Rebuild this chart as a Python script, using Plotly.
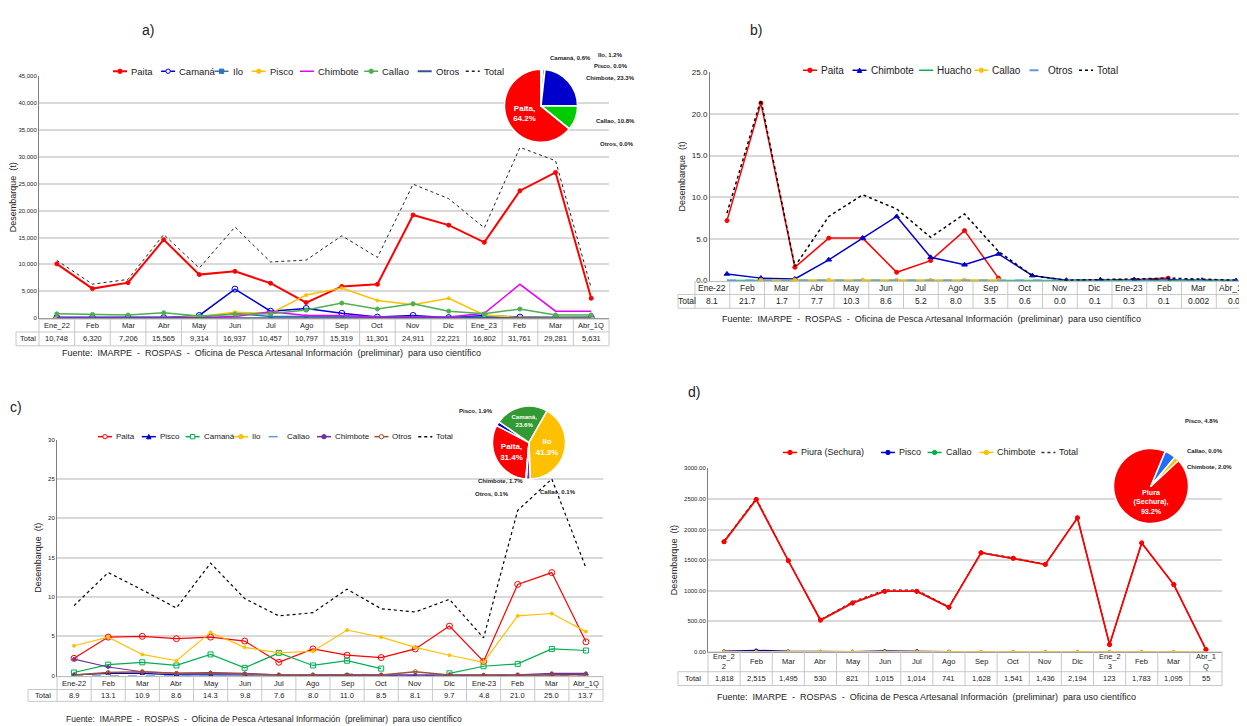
import plotly.graph_objects as go

W, H = 1247, 726
def X(p): return p / W
def Y(p): return 1 - p / H

# ---------------- data ----------------
months_a = ["Ene_22","Feb","Mar","Abr","May","Jun","Jul","Ago","Sep","Oct","Nov","Dic","Ene_23","Feb","Mar","Abr_1Q"]
months_b = ["Ene-22","Feb","Mar","Abr","May","Jun","Jul","Ago","Sep","Oct","Nov","Dic","Ene-23","Feb","Mar","Abr_1Q"]
months_d = ["Ene_2<br>2","Feb","Mar","Abr","May","Jun","Jul","Ago","Sep","Oct","Nov","Dic","Ene_2<br>3","Feb","Mar","Abr_1<br>Q"]

# a) Pota
a_paita    = [10100,5500,6600,14600,8100,8700,6500,2900,5900,6300,19200,17300,14100,23700,27100,3700]
a_camana   = [100,100,100,100,500,5400,1300,1800,900,200,500,100,500,200,100,100]
a_ilo      = [100,100,100,100,200,900,300,300,200,100,100,100,200,100,200,200]
a_pisco    = [0,0,0,0,300,1100,900,4300,5600,3300,2500,3700,600,100,100,100]
a_chimbote = [100,100,100,100,100,300,1200,500,500,200,200,200,900,6300,1300,1300]
a_callao   = [800,700,600,1000,400,700,800,1500,2800,1700,2700,1300,800,1700,600,600]
a_otros    = [0]*16
a_total    = [10748,6320,7206,15565,9314,16937,10457,10797,15319,11301,24911,22221,16802,31761,29281,5631]
a_total_lbl = ["10,748","6,320","7,206","15,565","9,314","16,937","10,457","10,797","15,319","11,301","24,911","22,221","16,802","31,761","29,281","5,631"]
a_pie_labels = ["Paita","Camaná","Ilo","Pisco","Chimbote","Callao","Otros"]
a_pie_values = [64.2,0.6,1.2,0.0,23.3,10.8,0.0]

# b) Calamar
b_paita    = [7.2,21.3,1.6,5.1,5.1,1.0,2.4,6.0,0.3,None,None,None,0.1,0.3,None,None]
b_chimbote = [0.8,0.3,0.2,2.5,5.1,7.7,2.8,1.9,3.2,0.6,0.05,0.1,0.1,0.1,0.05,0.0]
b_huacho   = [0]*16
b_callao   = [None,0.05,0.05,0.05,0.05,0.05,0.05,0.05,0.05,None,None,None,None,None,None,None]
b_otros    = [0]*16
b_total_lbl = ["8.1","21.7","1.7","7.7","10.3","8.6","5.2","8.0","3.5","0.6","0.0","0.1","0.3","0.1","0.002","0.0"]
b_total_line = [8.1,21.7,1.7,7.7,10.3,8.6,5.2,8.0,3.5,0.6,0.05,0.1,0.2,0.3,0.2,0.05]

# c) Pulpo
c_paita    = [2.2,4.9,5.0,4.7,4.9,4.4,1.7,3.4,2.6,2.3,3.4,6.3,1.8,11.6,13.1,4.3]
c_pisco    = [0.1,0.3,0.3,0.1,0.1,0.1,0.05,0,0,0,0,0,0,0,0.1,0.2]
c_camana   = [0.4,1.4,1.7,1.3,2.7,1.0,2.9,1.3,1.9,0.9,None,0.3,1.2,1.5,3.4,3.2]
c_ilo      = [3.8,4.9,2.7,1.9,5.5,3.6,2.9,3.1,5.8,4.9,3.6,2.6,1.7,7.6,7.9,5.6]
c_callao   = [0,0,0,0,0,0,0,0,0.2,0.1,0,0,0,0,0,0]
c_chimbote = [2.1,1.1,0.5,0.3,0.4,0.3,0.1,0.1,0.1,0.1,0.1,0.1,0.05,0.1,0.3,0.3]
c_otros    = [0.1,0.4,0.5,0.3,0.3,0.2,0.1,0.1,0.1,0.1,0.5,0.1,0.05,0.1,0.1,0.1]
c_total    = [8.9,13.1,10.9,8.6,14.3,9.8,7.6,8.0,11.0,8.5,8.1,9.7,4.8,21.0,25.0,13.7]
c_total_lbl = ["8.9","13.1","10.9","8.6","14.3","9.8","7.6","8.0","11.0","8.5","8.1","9.7","4.8","21.0","25.0","13.7"]
c_pie_labels = ["Paita","Pisco","Camaná","Ilo","Chimbote","Callao","Otros"]
c_pie_values = [31.4,1.9,23.6,41.3,1.7,0.1,0.1]

# d) Concha de abanico
d_piura    = [1800,2490,1490,520,800,990,990,730,1620,1530,1430,2190,120,1780,1100,40]
d_pisco    = [10,25,10,5,5,15,15,5,0,0,0,0,0,0,0,0]
d_callao   = [0]*16
d_chimbote = [2]*16
d_total    = [1818,2515,1495,530,821,1015,1014,741,1628,1541,1436,2194,123,1783,1095,55]
d_total_lbl = ["1,818","2,515","1,495","530","821","1,015","1,014","741","1,628","1,541","1,436","2,194","123","1,783","1,095","55"]
d_pie_labels = ["Piura (Sechura)","Pisco","Callao","Chimbote"]
d_pie_values = [93.2,4.8,0.0,2.0]

FONT = "Liberation Sans, Arial, sans-serif"
fig = go.Figure()
idx = list(range(16))
shapes, ann = [], []
legends = {"": [], "2": [], "3": [], "4": []}

def line(name, ys, color, axis, symbol="circle", dash="solid", width=1.5, msize=4, open_=False, mode="lines+markers", show=True):
    fig.add_trace(go.Scatter(
        x=idx, y=ys, name=name, mode=mode, xaxis="x"+axis, yaxis="y"+axis, showlegend=False,
        line=dict(color=color, width=width, dash=dash),
        marker=dict(symbol=symbol + ("-open" if open_ else ""), size=msize, color=color,
                    line=dict(color=color, width=1)),
        connectgaps=False))
    if show:
        legends[axis].append((name, color, dash, width, symbol if "markers" in mode else None, open_))

# ---- a
line("Paita", a_paita, "#ff0000", "", width=2)
line("Camaná", a_camana, "#0000dd", "", open_=True, msize=6)
line("Ilo", a_ilo, "#2e75b6", "", symbol="square", msize=3)
line("Pisco", a_pisco, "#ffc000", "", msize=3)
line("Chimbote", a_chimbote, "#e600ff", "", mode="lines")
line("Callao", a_callao, "#4caf50", "", msize=4)
line("Otros", a_otros, "#2f5597", "", mode="lines", width=2)
line("Total", a_total, "#222222", "", dash="dot", width=1, mode="lines")

# ---- b
line("Paita", b_paita, "#ff0000", "2")
line("Chimbote", b_chimbote, "#0000cc", "2", symbol="triangle-up", msize=5)
line("Huacho", b_huacho, "#00b050", "2", symbol="square", msize=3, mode="lines")
line("Callao", b_callao, "#ffc000", "2", msize=4)
line("Otros", b_otros, "#5b9bd5", "2", dash="dash", mode="lines", width=2)
line("Total", b_total_line, "#000000", "2", dash="dot", width=1.5, mode="lines")

# ---- c
line("Paita", c_paita, "#ff0000", "3", open_=True, msize=6, width=1.2)
line("Pisco", c_pisco, "#0000cc", "3", symbol="triangle-up", msize=4, width=1.2)
line("Camaná", c_camana, "#00b050", "3", symbol="square", open_=True, msize=5, width=1.2)
line("Ilo", c_ilo, "#ffc000", "3", msize=3, width=1.2)
line("Callao", c_callao, "#5b9bd5", "3", dash="dash", mode="lines", width=1.5)
line("Chimbote", c_chimbote, "#7030a0", "3", msize=3, width=1.2)
line("Otros", c_otros, "#a0522d", "3", open_=True, msize=4, width=1.5)
line("Total", c_total, "#000000", "3", dash="dot", width=1.2, mode="lines")

# ---- d
line("Piura (Sechura)", d_piura, "#ff0000", "4", msize=4)
line("Pisco", d_pisco, "#0000cc", "4", msize=3)
line("Callao", d_callao, "#00b050", "4", msize=3)
line("Chimbote", d_chimbote, "#ffc000", "4", msize=3)
line("Total", d_total, "#333333", "4", dash="dot", width=1, mode="lines")
line("Piura (Sechura)", d_piura, "#ff0000", "4", msize=4, show=False)

def txt(s, x, y, size=8, anchor="left", color="#222", bold=False):
    ann.append(dict(text=("<b>%s</b>" % s) if bold else s, x=X(x), y=Y(y), xref="paper", yref="paper",
                    showarrow=False, xanchor=anchor, yanchor="middle",
                    font=dict(family=FONT, size=size, color=color)))

def seg(x0, y0, x1, y1, color="#c8c8c8", width=1, dash="solid"):
    shapes.append(dict(type="line", xref="paper", yref="paper", x0=X(x0), x1=X(x1), y0=Y(y0), y1=Y(y1),
                       line=dict(color=color, width=width, dash=dash)))

# ---------------- custom legends ----------------
def draw_legend(items, x, y, fs, seglen=14):
    cw = fs * 0.57
    for name, color, dash, width, sym, open_ in items:
        seg(x, y, x + seglen, y, color, max(width, 1.5), dash)
        cx = x + seglen / 2
        if sym:
            r = 2.2
            fill = "white" if open_ else color
            if sym == "square":
                shapes.append(dict(type="rect", xref="paper", yref="paper", x0=X(cx - r), x1=X(cx + r),
                                   y0=Y(y + r), y1=Y(y - r), fillcolor=fill, line=dict(color=color, width=1)))
            elif sym == "triangle-up":
                p = "M %f %f L %f %f L %f %f Z" % (X(cx - r), Y(y + r), X(cx + r), Y(y + r), X(cx), Y(y - r))
                shapes.append(dict(type="path", xref="paper", yref="paper", path=p, fillcolor=fill,
                                   line=dict(color=color, width=1)))
            else:
                shapes.append(dict(type="circle", xref="paper", yref="paper", x0=X(cx - r), x1=X(cx + r),
                                   y0=Y(y + r), y1=Y(y - r), fillcolor=fill, line=dict(color=color, width=1)))
        txt(name, x + seglen + 2, y, fs)
        x += seglen + 2 + len(name) * cw + 5

draw_legend(legends[""], 105, 60, 9.5)
draw_legend(legends["2"], 795, 59, 10)
draw_legend(legends["3"], 90, 430, 8)
draw_legend(legends["4"], 775, 446, 9)

# ---------------- tables ----------------
def table(cats, totals, x0, xb, x1, y0, ym, y1, fs=8):
    n = len(cats)
    bw = (x1 - xb) / n
    seg(xb, y0, x1, y0); seg(x0, ym, x1, ym); seg(x0, y1, x1, y1)
    seg(x0, ym, x0, y1)
    for i in range(n + 1):
        seg(xb + i * bw, y0, xb + i * bw, y1)
    for i, (c, t) in enumerate(zip(cats, totals)):
        cx = xb + (i + 0.5) * bw
        txt(c, cx, (y0 + ym) / 2, fs, "center")
        txt(t, cx, (ym + y1) / 2, fs, "center")
    txt("Total", (x0 + xb) / 2, (ym + y1) / 2, fs, "center")

table(months_a, a_total_lbl, 8, 31, 601, 311, 324, 338, 7.5)
table(months_b, b_total_lbl, 670, 687, 1243, 273, 286, 300, 8.5)
table(months_b, c_total_lbl, 20, 49, 595, 673, 686, 698, 7.5)
table(months_d, d_total_lbl, 670, 700, 1214, 648, 668, 682, 7.5)

# ---------------- pies ----------------
def pie(labels, values, colors, cx, cy, r, texts, rot=0):
    fig.add_trace(go.Pie(
        labels=labels, values=values, sort=False, direction="clockwise", rotation=rot,
        domain=dict(x=[X(cx - r), X(cx + r)], y=[Y(cy + r), Y(cy - r)]),
        marker=dict(colors=colors, line=dict(color="white", width=1.5)),
        texttemplate=texts, textposition="inside", insidetextorientation="horizontal",
        textfont=dict(family=FONT, size=8, color="white"), showlegend=False, hoverinfo="label+percent"))

pie(a_pie_labels, a_pie_values, ["#ff0000","#00b0f0","#a5a5a5","#ffc000","#0000cc","#00cc00","#2f5597"],
    533, 95, 37, ["<b>Paita,<br>64.2%</b>","","","","","",""], rot=129)
pie(c_pie_labels, c_pie_values, ["#ff0000","#0000cc","#339933","#ffc000","#7030a0","#5b9bd5","#a0522d"],
    521, 436, 37, ["<b>Paita,<br>31.4%</b>","","<b>Camaná,<br>23.6%</b>","<b>Ilo<br>41.3%</b>","","",""], rot=185)
pie(d_pie_labels, d_pie_values, ["#ff0000","#1f6fff","#00b050","#ffc000"],
    1143, 480, 38, ["<b>Piura<br>(Sechura),<br>93.2%</b>","","",""], rot=47)

# ---------------- axes ----------------
def xax(x0, x1, y):
    return dict(domain=[X(x0), X(x1)], range=[-0.5, 15.5], showticklabels=False, showgrid=False,
                zeroline=False, showline=True, linecolor="#7f7f7f", ticks="", anchor="y" + y if y else "y",
                fixedrange=True)

def yax(y0, y1, rng, dtick, fmt, x, fs):
    return dict(domain=[Y(y1), Y(y0)], range=rng, dtick=dtick, tickformat=fmt, showgrid=True,
                gridcolor="#d9d9d9", gridwidth=1.5, zeroline=False, showline=True, linecolor="#7f7f7f",
                tickfont=dict(family=FONT, size=fs, color="#222"), anchor="x" + x if x else "x",
                title=dict(text="Desembarque  (t)", font=dict(family=FONT, size=9, color="#222"), standoff=4),
                ticks="", fixedrange=True)

fig.update_layout(
    width=W, height=H, margin=dict(l=0, r=0, t=0, b=0), paper_bgcolor="white", plot_bgcolor="white",
    xaxis=xax(31, 601, ""), yaxis=yax(65, 310, [0, 45000], 5000, ",d", "", 6),
    xaxis2=xax(702, 1245, "2"), yaxis2=yax(61, 272, [0, 25], 5, ".1f", "2", 8),
    xaxis3=xax(49, 595, "3"), yaxis3=yax(433, 672, [0, 30], 5, "d", "3", 6),
    xaxis4=xax(700, 1214, "4"), yaxis4=yax(462, 648, [0, 3000], 500, ".2f", "4", 6),
    showlegend=False,
)

txt("a)", 140, 18, 14, "center"); txt("b)", 748, 18, 14, "center")
txt("c)", 8, 400, 14, "center"); txt("d)", 686, 385, 14, "center")
src = "Fuente:  IMARPE  -  ROSPAS  -  Oficina de Pesca Artesanal Información  (preliminar)  para uso científico"
txt(src, 52, 345, 9); txt(src, 712, 311, 9); txt(src, 56, 716, 8.5); txt(src, 707, 694, 9)
for s, x, y in [("Camaná, 0.6%", 540, 47), ("Ilo, 1.2%", 588, 44), ("Pisco, 0.0%", 584, 55),
                ("Chimbote, 23.3%", 576, 67), ("Callao, 10.8%", 586, 110), ("Otros, 0.0%", 590, 134)]:
    txt(s, x, y, 6, bold=True)
for s, x, y in [("Pisco, 1.9%", 449, 404), ("Chimbote, 1.7%", 468, 475), ("Otros, 0.1%", 465, 488),
                ("Callao, 0.1%", 530, 486)]:
    txt(s, x, y, 6, bold=True)
for s, x, y in [("Pisco, 4.8%", 1175, 414), ("Callao, 0.0%", 1177, 445), ("Chimbote, 2.0%", 1177, 461)]:
    txt(s, x, y, 6, bold=True)
fig.update_layout(annotations=ann, shapes=shapes)

fig.write_html("out.html")
